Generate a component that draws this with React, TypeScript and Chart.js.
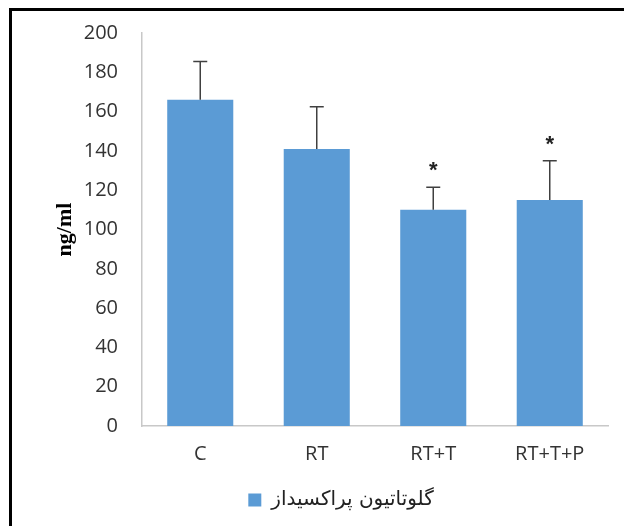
import React, { useEffect, useRef } from "react";
import { Chart, registerables } from "chart.js";

Chart.register(...registerables);

const categories = ["C", "RT", "RT+T", "RT+T+P"];
const seriesName = "گلوتاتیون پراکسیداز";
const values = [166, 141, 110, 115];
const errors = [19.5, 21.5, 11.5, 20];
const markers = ["", "", "*", "*"];
const yTicks = { min: 0, max: 200, step: 20 };
const yTitle = "ng/ml";

const errorBarPlugin = {
  id: "errorBars",
  afterDatasetsDraw(chart: any) {
    const { ctx, scales } = chart;
    const xs = scales.x;
    const ys = scales.y;
    ctx.save();
    values.forEach((v, i) => {
      const x = xs.getPixelForValue(i);
      const yBar = ys.getPixelForValue(v);
      const yTop = ys.getPixelForValue(v + errors[i]);
      ctx.strokeStyle = "#404040";
      ctx.lineWidth = 1.5;
      ctx.beginPath();
      ctx.moveTo(x, yBar);
      ctx.lineTo(x, yTop);
      ctx.moveTo(x - 7, yTop);
      ctx.lineTo(x + 7, yTop);
      ctx.stroke();
      if (markers[i]) {
        ctx.fillStyle = "#222";
        ctx.font = "bold 22px 'Liberation Sans'";
        ctx.textAlign = "center";
        ctx.textBaseline = "middle";
        ctx.fillText(markers[i], x, yTop - 16);
      }
    });
    ctx.restore();
  },
};

export default function App() {
  const ref = useRef<HTMLCanvasElement>(null);
  useEffect(() => {
    if (!ref.current) return;
    const chart = new Chart(ref.current, {
      type: "bar",
      data: {
        labels: categories,
        datasets: [
          {
            label: seriesName,
            data: values,
            backgroundColor: "#5B9BD5",
            borderWidth: 0,
            categoryPercentage: 1,
            barPercentage: 0.567,
          },
        ],
      },
      options: {
        animation: false,
        responsive: false,
        devicePixelRatio: 1,
        layout: { padding: { left: 0, right: 0, top: 22, bottom: 6 } },
        plugins: {
          tooltip: { enabled: false },
          legend: {
            position: "bottom",
            labels: {
              boxWidth: 13,
              boxHeight: 13,
              padding: 10,
              color: "#222",
              font: { size: 20, family: "'DejaVu Sans'" },
            },
          },
        },
        scales: {
          x: {
            grid: { display: false, drawTicks: false },
            border: { display: true, color: "#c8c8c8", width: 1.5 },
            ticks: {
              color: "#333",
              padding: 16,
              font: { size: 20, family: "'Open Sans'" },
            },
            afterFit(scale: any) {
              scale.height = 54;
            },
          },
          y: {
            min: yTicks.min,
            max: yTicks.max,
            grid: { display: false, drawTicks: true, tickLength: 24 },
            border: { display: true, color: "#c8c8c8", width: 1.5 },
            ticks: {
              stepSize: yTicks.step,
              color: "#333",
              padding: 0,
              font: { size: 20, family: "'Open Sans'" },
            },
            title: {
              display: true,
              text: yTitle,
              color: "#000",
              padding: { top: 40, bottom: 0 },
              font: { size: 22, weight: "bold", family: "'Liberation Serif'" },
            },
            afterFit(scale: any) {
              scale.width = 130;
            },
          },
          yRight: {
            type: "linear",
            position: "right",
            display: true,
            grid: { display: false, drawTicks: false },
            border: { display: false },
            ticks: { display: false },
            afterFit(scale: any) {
              scale.width = 62;
            },
          },
        },
      },
      plugins: [errorBarPlugin],
    });
    return () => chart.destroy();
  }, []);

  return (
    <div
      style={{
        position: "fixed",
        left: 0,
        top: 0,
        width: 624,
        height: 526,
        overflow: "hidden",
        background: "#fff",
      }}
    >
      <div
        style={{
          marginLeft: 9,
          marginTop: 8,
          width: 700,
          height: 600,
          borderLeft: "3px solid #000",
          borderTop: "3px solid #000",
        }}
      >
        <canvas ref={ref} width={658} height={515} style={{ display: "block" }} />
      </div>
    </div>
  );
}
